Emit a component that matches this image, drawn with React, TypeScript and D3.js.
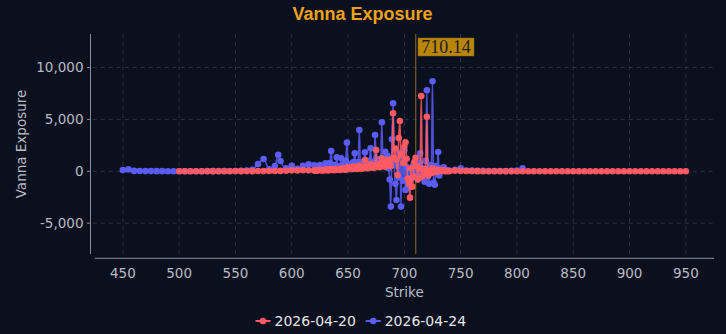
import React from "react";
import * as d3 from "d3";

// ---------- DATA ----------
const title = "Vanna Exposure";
const seriesNames = ["2026-04-20", "2026-04-24"];
const spotPrice = 710.14;
const xTicks = [450, 500, 550, 600, 650, 700, 750, 800, 850, 900, 950];
const yTicks = [-5000, 0, 5000, 10000];

// 2026-04-20
const redStrikes = [
  500, 505, 510, 515, 520, 525, 530, 535, 540, 545, 550, 555, 560, 565, 570, 575, 580, 585, 590, 595, 600, 605, 610, 615,
  620, 621, 622, 623, 624, 625, 626, 627, 628, 629, 630, 631, 632, 633, 634, 635, 636, 637, 638, 639,
  640, 641, 642, 643, 644, 645, 646, 647, 648, 649, 650, 651, 652, 653, 654, 655, 656, 657, 658, 659,
  660, 661, 662, 663, 664, 665, 666, 667, 668, 669, 670, 671, 672, 673, 674, 675, 676, 677, 678, 679,
  680, 681, 682, 683, 684, 685, 686, 687, 688, 689, 690, 691, 692, 693, 694, 695, 696, 697, 698, 699,
  700, 701, 702, 703, 704, 705, 706, 707, 708, 709, 710, 711, 712, 713, 714, 715, 716, 717, 718, 719,
  720, 721, 722, 723, 724, 725, 726, 727, 728, 729, 730, 731, 732, 733, 734, 735, 736, 737, 738, 739, 740,
  745, 750, 755, 760, 765, 770, 775, 780, 785, 790, 795, 800, 805, 810, 815, 820, 825, 830, 835, 840, 845,
  850, 855, 860, 865, 870, 875, 880, 885, 890, 895, 900, 905, 910, 915, 920, 925, 930, 935, 940, 945, 950,
];
const redValues = [
  10, 5, 10, 5, 10, 10, 15, 10, 15, 10, 20, 15, 20, 15, 25, 20, 30, 25, 40, 50, 90, 70, 100, 90,
  80, 60, 100, 70, 120, 150, 90, 110, 80, 130, 180, 100, 140, 90, 150, 200, 120, 160, 110, 170,
  250, 150, 200, 130, 220, 300, 180, 240, 160, 260, 400, 220, 280, 200, 300, 450, 250, 320, 220, 350,
  550, 280, 380, 260, 420, 1090, 320, 450, 300, 500, 700, 380, 520, 350, 600, 2050, 420, 650, 400, 700,
  1250, 500, 800, 450, 900, 1100, 600, 950, 500, 1200, 5590, 1300, 2200, 1100, -360, 3200, 4840, 1500, 1700, 800,
  2370, 2790, 1200, -700, -1200, -2540, 300, -1480, -450, 900, 1300, 500, -800, 300, 200, 7260, -500, 150, -300, 200,
  5260, -400, 100, -200, 150, 300, -100, 100, 80, -50, 150, 60, 40, 80, 30, 100, 20, 40, 10, 30, 20,
  60, 40, 30, 20, 15, 10, 10, 10, 5, 5, 5, 5, 5, 5, 5, 0, 0, 0, 0, 0, 0,
  0, 0, 0, 0, 0, 0, 0, 0, 0, 0, 0, 0, 0, 0, 0, 0, 0, 0, 0, 0, 0,
];

// 2026-04-24
const blueStrikes = [
  450, 455, 460, 465, 470, 475, 480, 485, 490, 495, 500, 505, 510, 515, 520, 525, 530, 535, 540, 545, 550, 555, 560, 565,
  570, 575, 580, 585, 588, 590, 595, 600, 605, 610, 615, 620, 625, 630,
  631, 632, 633, 634, 635, 636, 637, 638, 639, 640, 641, 642, 643, 644, 645, 646, 647, 648, 649,
  650, 651, 652, 653, 654, 655, 656, 657, 658, 659, 660, 661, 662, 663, 664, 665, 666, 667, 668, 669,
  670, 671, 672, 673, 674, 675, 676, 677, 678, 679, 680, 681, 682, 683, 684, 685, 686, 687, 688, 689,
  690, 691, 692, 693, 694, 695, 696, 697, 698, 699, 700, 701, 702, 703, 704, 705, 706, 707, 708, 709,
  710, 711, 712, 713, 714, 715, 716, 717, 718, 719, 720, 721, 722, 723, 724, 725, 726, 727, 728, 729,
  730, 731, 732, 733, 734, 735, 736, 737, 738, 739, 740,
  745, 750, 755, 760, 765, 770, 775, 780, 785, 790, 795, 800, 805,
];
const blueValues = [
  120, 180, 40, 30, 20, 20, 15, 15, 10, 10, 10, 10, 10, 10, 10, 20, 15, 20, 20, 25, 30, 40, 60, 150,
  700, 1180, 200, 510, 1600, 990, 300, 540, 250, 540, 670, 580, 600, 770,
  400, 300, 500, 800, 1960, 500, 400, 600, 450, 1350, 400, 500, 350, 1250, 600, 400, 500, 1020, 2760,
  700, 500, 600, 400, 800, 900, 1730, 500, 700, 900, 3980, 600, 800, 500, 900, 1830, 700, 900, 600, 1000,
  2210, 800, 500, 900, 3500, 1200, 700, 1000, 600, 800, 4720, 900, 600, 1890, 400, 1500, 300, -800, -3400, 3080,
  6550, 900, -1200, -2770, 500, -600, 1800, -3400, 1200, -900, 2000, -1800, 400, -1500, 300, -900, 200, -600, 600, -400,
  300, 500, -300, 800, 1730, 200, -600, 300, -1000, 1000, 7810, -500, -1200, 400, 600, 8680, -1100, -1300, 500, 300,
  1860, -400, 200, 290, 100, 380, 50, 100, 60, 80, 50,
  150, 290, 80, 60, 40, 40, 30, 30, 30, 20, 40, 60, 290,
];

// ---------- STYLE ----------
const W = 726;
const H = 334;
const BG = "#0b101e";
const RED = "#ff5a63";
const BLUE = "#5a5cf5";
const GRID = "#2c3344";
const AXIS = "#8a8f99";
const TEXT = "#b9bcc4";
const TITLE = "#eea21c";
const SPOT = "#8f6b1c";
const FONT = "'DejaVu Sans', Verdana, sans-serif";

const fmt = d3.formatLocale({
  decimal: ".",
  thousands: ",",
  grouping: [3],
  currency: ["$", ""],
  minus: "-",
}).format(",");

export default function App() {
  React.useEffect(() => {
    document.body.style.margin = "0";
    document.body.style.background = BG;
  }, []);

  const left = 94.7, right = 714, top = 34, bottom = 254;
  const x = d3.scaleLinear().domain([425, 975]).range([left, right]);
  const y = d3.scaleLinear().domain([-7970, 13230]).range([bottom, top]);

  const line = d3
    .line<[number, number]>()
    .x((d) => x(d[0]))
    .y((d) => y(d[1]))
    .curve(d3.curveMonotoneX);

  const red: [number, number][] = redStrikes.map((s, i) => [s, redValues[i]]);
  const blue: [number, number][] = blueStrikes.map((s, i) => [s, blueValues[i]]);

  const series = [
    { data: blue, color: BLUE },
    { data: red, color: RED },
  ];

  const spotX = x(spotPrice);

  return (
    <svg
      width={W}
      height={H}
      style={{ position: "absolute", left: 0, top: 0, background: BG, display: "block" }}
    >
      <rect x={0} y={0} width={W} height={H} fill={BG} />
      <text
        x={362.5}
        y={19.5}
        textAnchor="middle"
        fill={TITLE}
        fontSize={18}
        fontWeight="bold"
        fontFamily="'Liberation Sans', Arial, sans-serif"
      >
        {title}
      </text>

      {/* grid */}
      {xTicks.map((t) => (
        <line key={"gx" + t} x1={x(t)} x2={x(t)} y1={top} y2={bottom} stroke={GRID} strokeDasharray="4,4" strokeWidth={1} />
      ))}
      {yTicks.map((t) => (
        <line key={"gy" + t} x1={left - 2} x2={right} y1={y(t)} y2={y(t)} stroke={GRID} strokeDasharray="4,4" strokeWidth={1} />
      ))}

      {/* axes */}
      <line x1={90.5} x2={90.5} y1={top} y2={bottom} stroke={AXIS} strokeWidth={1} />
      {yTicks.map((t) => (
        <line key={"ty" + t} x1={87} x2={90.5} y1={y(t)} y2={y(t)} stroke={AXIS} strokeWidth={1} />
      ))}
      <line x1={left} x2={right} y1={258.3} y2={258.3} stroke={AXIS} strokeWidth={1} />

      {yTicks.map((t) => (
        <text key={"ly" + t} x={83.5} y={y(t)} dy="0.36em" textAnchor="end" fill={TEXT} fontSize={13.5} fontFamily={FONT}>
          {fmt(t)}
        </text>
      ))}
      {xTicks.map((t) => (
        <text key={"lx" + t} x={x(t)} y={277.5} textAnchor="middle" fill={TEXT} fontSize={13.5} fontFamily={FONT}>
          {t}
        </text>
      ))}
      <text x={(left + right) / 2} y={297} textAnchor="middle" fill={TEXT} fontSize={13.5} fontFamily={FONT}>
        Strike
      </text>
      <text
        transform={`translate(26,144) rotate(-90)`}
        textAnchor="middle"
        fill={TEXT}
        fontSize={13.5}
        fontFamily={FONT}
      >
        Vanna Exposure
      </text>

      {/* spot line */}
      <line x1={spotX} x2={spotX} y1={top} y2={bottom} stroke={SPOT} strokeWidth={1} />

      {/* series */}
      {series.map((s, si) => (
        <g key={"s" + si}>
          <path d={line(s.data) || ""} fill="none" stroke={s.color} strokeWidth={1.6} strokeOpacity={0.85} />
          {s.data.map((d, i) => (
            <circle key={i} cx={x(d[0])} cy={y(d[1])} r={3.3} fill={s.color} />
          ))}
        </g>
      ))}

      {/* spot label */}
      <rect x={418} y={38} width={56} height={18} fill="#b8860b" stroke="#8a6410" strokeWidth={0.5} />
      <text x={446} y={53.2} textAnchor="middle" fill="#1e1e1e" fontSize={18} fontFamily="'Liberation Serif', 'Times New Roman', serif">
        {spotPrice.toFixed(2)}
      </text>

      {/* legend */}
      {seriesNames.map((name, i) => {
        const ix = i === 0 ? 255.5 : 365.7;
        const color = i === 0 ? RED : BLUE;
        return (
          <g key={"lg" + i}>
            <line x1={ix} x2={ix + 15} y1={321} y2={321} stroke={color} strokeWidth={2} />
            <circle cx={ix + 7.5} cy={321} r={3.3} fill={color} />
            <text x={ix + 19} y={326} fill="#e6e6e6" fontSize={14} fontFamily={FONT}>
              {name}
            </text>
          </g>
        );
      })}
    </svg>
  );
}
